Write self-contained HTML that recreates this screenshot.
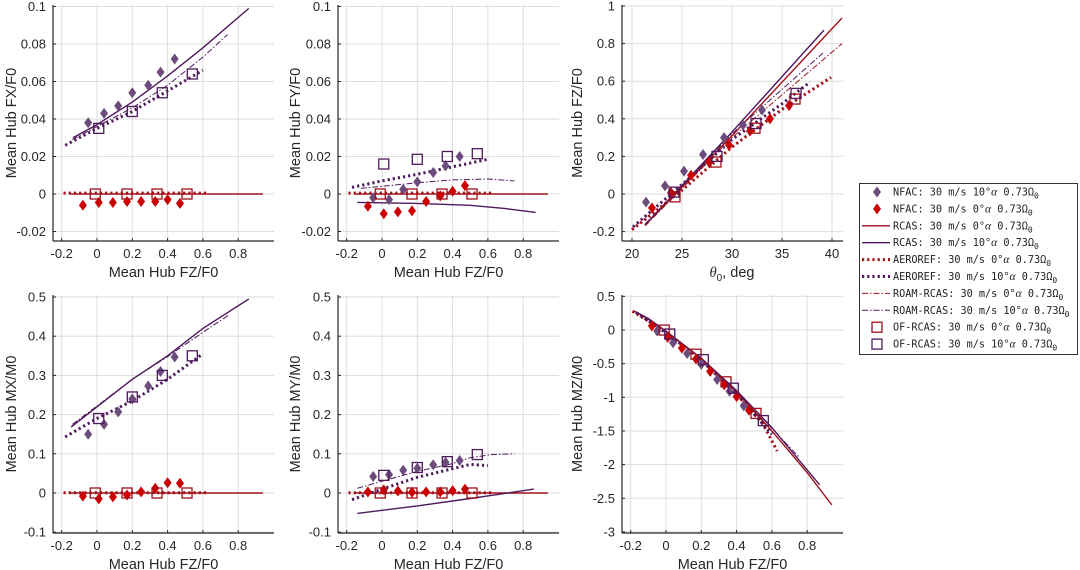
<!DOCTYPE html>
<html><head><meta charset="utf-8">
<style>
html,body{margin:0;padding:0;background:#fff;width:1080px;height:570px;overflow:hidden}
svg{display:block}
text{font-family:"Liberation Sans",Arial,sans-serif;fill:#262626}
.leg text{font-family:"DejaVu Sans Mono","Liberation Mono",monospace;font-size:10.2px;fill:#222}
</style></head>
<body>
<svg id="s" width="1080" height="570" xmlns="http://www.w3.org/2000/svg"></svg>
<script>
const S=document.getElementById('s');
let out='';
const RL='#a0101a', RM='#cc0000', PL='#4e1a5c', PM='#6b4c7c';
function pts(a,fx,fy){return a.map(p=>fx(p[0]).toFixed(1)+','+fy(p[1]).toFixed(1)).join(' ');}
function line(a,fx,fy,col,style){
  let st='';
  if(style=='solid') st='stroke-width="1.4"';
  if(style=='dot') st='stroke-width="3" stroke-dasharray="2.2 3"';
  if(style=='dd') st='stroke-width="1" stroke-dasharray="6 2 1.5 2"';
  out+=`<polyline points="${pts(a,fx,fy)}" fill="none" stroke="${col}" ${st}/>`;
}
function dia(x,y,c){out+=`<polygon points="${x},${y-5.5} ${x+4},${y} ${x},${y+5.5} ${x-4},${y}" fill="${c}"/>`;}
function sq(x,y,c){out+=`<rect x="${x-5}" y="${y-5}" width="10" height="10" fill="none" stroke="${c}" stroke-width="1.3"/>`;}
function axes(L,T,B,R,fx,fy,xt,yt,xlab,ylab,ylx,xfmt){
  xt.forEach(v=>{const x=fx(v);out+=`<line x1="${x}" y1="${T}" x2="${x}" y2="${B}" stroke="#dedede" stroke-width="1"/>`;});
  yt.forEach(v=>{const y=fy(v);out+=`<line x1="${L}" y1="${y}" x2="${R}" y2="${y}" stroke="#dedede" stroke-width="1"/>`;});
  out+=`<line x1="${L}" y1="${T}" x2="${L}" y2="${B}" stroke="#262626" stroke-width="1.2"/>`;
  out+=`<line x1="${L}" y1="${B}" x2="${R}" y2="${B}" stroke="#262626" stroke-width="1.2"/>`;
  xt.forEach(v=>{const x=fx(v);out+=`<line x1="${x}" y1="${B}" x2="${x}" y2="${B-3}" stroke="#262626"/>`;
    out+=`<text x="${x}" y="${B+17}" font-size="13" text-anchor="middle">${xfmt?xfmt(v):fmt(v)}</text>`;});
  yt.forEach(v=>{const y=fy(v);out+=`<line x1="${L}" y1="${y}" x2="${L+3}" y2="${y}" stroke="#262626"/>`;
    out+=`<text x="${L-7}" y="${y+4.5}" font-size="13" text-anchor="end">${fmt(v)}</text>`;});
  out+=`<text x="${(L+R)/2}" y="${B+36}" font-size="14.5" text-anchor="middle">${xlab}</text>`;
  out+=`<text transform="translate(${ylx},${(T+B)/2}) rotate(-90)" font-size="14.5" text-anchor="middle">${ylab}</text>`;
}
function fmt(v){let r=Math.round(v*1000)/1000; if(Math.abs(r)<1e-9) return '0'; return String(r);}
function rng(a,b,s){let r=[];for(let v=a;v<=b+1e-9;v+=s)r.push(Math.round(v*1000)/1000);return r;}
const XT=rng(-0.2,0.8,0.2);
const NX10=[-0.05,0.04,0.12,0.2,0.29,0.36,0.44];
const NX0=[-0.08,0.01,0.09,0.17,0.25,0.33,0.4,0.47];
const OX10=[0.01,0.2,0.37,0.54], OX0=[-0.01,0.17,0.34,0.51];

function fzPlot(L,T,B,y0,sc,yt,ylab,ylx,d){
  const fx=x=>L+44+x*176.5, fy=y=>y0-y*sc;
  axes(L,T,B,L+221,fx,fy,XT,yt,'Mean Hub FZ/F0',ylab,ylx);
  line(d.r0,fx,fy,RL,'solid'); line(d.a0,fx,fy,RL,'dot'); if(d.m0) line(d.m0,fx,fy,RL,'dd');
  line(d.r10,fx,fy,PL,'solid'); line(d.m10,fx,fy,PL,'dd'); line(d.a10,fx,fy,PL,'dot');
  NX10.forEach((x,i)=>dia(fx(x),fy(d.n10[i]),PM));
  NX0.forEach((x,i)=>dia(fx(x),fy(d.n0[i]),RM));
  OX0.forEach((x,i)=>sq(fx(x),fy(d.o0[i]),RL));
  OX10.forEach((x,i)=>sq(fx(x),fy(d.o10[i]),PL));
}
const Z0r=[[-0.15,0],[0.94,0]], Z0a=[[-0.19,0.0005],[0.62,0.0005]];
fzPlot(53,5,241,194,1875,rng(-0.02,0.1,0.02),'Mean Hub FX/F0',16,{
 r0:Z0r,a0:Z0a,
 r10:[[-0.136,0.030],[0,0.037],[0.2,0.049],[0.4,0.063],[0.6,0.078],[0.86,0.099]],
 m10:[[-0.14,0.029],[0,0.036],[0.2,0.046],[0.4,0.058],[0.6,0.073],[0.74,0.085]],
 a10:[[-0.18,0.026],[0,0.035],[0.2,0.044],[0.4,0.055],[0.6,0.066]],
 n10:[.038,.043,.047,.054,.058,.065,.072],
 n0:[-.006,-.0045,-.0045,-.004,-.004,-.004,-.003,-.005],
 o10:[.035,.044,.054,.064],o0:[0,0,0,0]});
fzPlot(338,5,241,194,1875,rng(-0.02,0.1,0.02),'Mean Hub FY/F0',300,{
 r0:Z0r,a0:Z0a,
 r10:[[-0.14,-0.0045],[0.2,-0.005],[0.5,-0.006],[0.7,-0.0078],[0.87,-0.0098]],
 m10:[[-0.12,0.003],[0.2,0.006],[0.4,0.0075],[0.6,0.008],[0.75,0.007]],
 a10:[[-0.17,0.0035],[0,0.007],[0.2,0.0105],[0.4,0.0145],[0.6,0.0185]],
 n10:[-.002,-.003,.0025,.0065,.0115,.015,.02],
 n0:[-.0065,-.0105,-.0095,-.009,-.004,-.001,.0015,.0045],
 o10:[.016,.0185,.02,.0215],o0:[0,0,0,0]});
fzPlot(53,295,533,493,392,rng(-0.1,0.5,0.1),'Mean Hub MX/M0',16,{
 r0:Z0r,a0:Z0a,
 r10:[[-0.147,0.168],[0,0.22],[0.2,0.29],[0.4,0.35],[0.6,0.42],[0.86,0.495]],
 m10:[[-0.14,0.175],[0,0.222],[0.2,0.29],[0.4,0.348],[0.6,0.41],[0.75,0.455]],
 a10:[[-0.18,0.143],[0,0.19],[0.2,0.235],[0.4,0.29],[0.6,0.355]],
 n10:[.15,.175,.207,.24,.273,.31,.347],
 n0:[-.008,-.015,-.01,-.005,.003,.012,.026,.025],
 o10:[.19,.245,.30,.35],o0:[0,0,0,0]});
fzPlot(338,295,533,493,392,rng(-0.1,0.5,0.1),'Mean Hub MY/M0',300,{
 r0:Z0r,a0:Z0a,
 r10:[[-0.14,-0.052],[0.2,-0.033],[0.5,-0.014],[0.86,0.01]],
 m10:[[-0.14,0.012],[0,0.03],[0.2,0.055],[0.4,0.075],[0.5,0.09],[0.62,0.098],[0.75,0.1]],
 a10:[[-0.17,-0.017],[0,0.01],[0.2,0.04],[0.4,0.062],[0.5,0.073],[0.6,0.07]],
 n10:[.042,.047,.058,.063,.072,.078,.083],
 n0:[.003,.008,.005,.002,.003,.003,.006,.01],
 o10:[.045,.065,.08,.098],o0:[0,0,0,0]});
(function(){
 const L=622,T=295,B=533; const fx=x=>L+44+x*176.5, fy=y=>330-y*67.3;
 axes(L,T,B,L+221,fx,fy,XT,rng(-3,0.5,0.5),'Mean Hub FZ/F0','Mean Hub MZ/M0',582);
 const c=[[-0.18,0.28],[-0.1,0.17],[0,-0.02],[0.2,-0.42],[0.4,-0.92],[0.6,-1.5],[0.8,-2.12],[0.94,-2.6]];
 const f=x=>{for(let i=0;i<c.length-1;i++){if(x<=c[i+1][0]){const t=(x-c[i][0])/(c[i+1][0]-c[i][0]);return c[i][1]+t*(c[i+1][1]-c[i][1]);}}return c[c.length-1][1];};
 line(c,fx,fy,RL,'solid');
 line([[-0.18,0.28],[-0.1,0.17],[0,-0.02],[0.2,-0.42],[0.4,-0.9],[0.6,-1.45],[0.87,-2.3]],fx,fy,PL,'solid');
 line([[-0.16,0.26],[0,-0.02],[0.2,-0.42],[0.4,-0.9],[0.6,-1.46],[0.75,-1.88]],fx,fy,PL,'dd');
 line([[-0.19,0.28],[0,-0.03],[0.2,-0.44],[0.4,-0.95],[0.55,-1.4],[0.63,-1.8]],fx,fy,RL,'dot');
 line([[-0.17,0.26],[0,-0.04],[0.2,-0.45],[0.4,-0.95],[0.6,-1.55]],fx,fy,PL,'dot');
 NX10.forEach(x=>dia(fx(x),fy(f(x)-0.09),PM));
 NX0.forEach(x=>dia(fx(x),fy(f(x)-0.07),RM));
 OX0.forEach(x=>sq(fx(x),fy(f(x)),RL));
 OX10.forEach(x=>sq(fx(x)+2,fy(f(x)-0.02),PL));
})();
(function(){
 const L=622,T=5,B=241; const fx=t=>632+(t-20)*10, fy=y=>194-y*188;
 axes(L,T,B,L+221,fx,fy,[20,25,30,35,40],rng(-0.2,1,0.2),'','Mean Hub FZ/F0',582,v=>String(v));
 out+=`<text x="732" y="277" font-size="14.5" text-anchor="middle"><tspan font-family="Liberation Serif" font-style="italic">θ</tspan><tspan font-size="10" dy="4">0</tspan><tspan dy="-4">, deg</tspan></text>`;
 line([[21.3,-0.165],[30,0.31],[41,0.936]],fx,fy,RL,'solid');
 line([[21.3,-0.165],[30,0.33],[39.2,0.872]],fx,fy,PL,'solid');
 line([[21.3,-0.17],[30,0.30],[41,0.80]],fx,fy,RL,'dd');
 line([[21.3,-0.16],[30,0.32],[39.1,0.75]],fx,fy,PL,'dd');
 line([[20.0,-0.19],[25,0.02],[30,0.25],[35,0.45],[39.9,0.62]],fx,fy,RL,'dot');
 line([[20.1,-0.175],[25,0.05],[30,0.29],[35,0.48],[37.8,0.595]],fx,fy,PL,'dot');
 [[21.4,-0.043],[23.3,0.043],[25.2,0.122],[27.1,0.21],[29.2,0.30],[31.1,0.367],[33.0,0.447]].forEach(p=>dia(fx(p[0]),fy(p[1]),PM));
 [[22.0,-0.074],[23.9,0.007],[25.9,0.10],[27.7,0.17],[29.7,0.26],[31.8,0.335],[33.8,0.40],[35.7,0.47]].forEach(p=>dia(fx(p[0]),fy(p[1]),RM));
 [[24.3,-0.015],[28.4,0.17],[32.3,0.35],[36.3,0.505]].forEach(p=>sq(fx(p[0]),fy(p[1]),RL));
 [[24.2,0.01],[28.5,0.20],[32.4,0.375],[36.4,0.535]].forEach(p=>sq(fx(p[0]),fy(p[1]),PL));
})();
out+=`<rect x="859.5" y="183.5" width="218" height="171" fill="#fff" stroke="#333" stroke-width="1"/>`;
const ents=[['d',PM,'NFAC: 30 m/s 10°'],['d',RM,'NFAC: 30 m/s 0°'],
 ['solid',RL,'RCAS: 30 m/s 0°'],['solid',PL,'RCAS: 30 m/s 10°'],
 ['dot',RL,'AEROREF: 30 m/s 0°'],['dot',PL,'AEROREF: 30 m/s 10°'],
 ['dd',RL,'ROAM-RCAS: 30 m/s 0°'],['dd',PL,'ROAM-RCAS: 30 m/s 10°'],
 ['s',RL,'OF-RCAS: 30 m/s 0°'],['s',PL,'OF-RCAS: 30 m/s 10°']];
out+='<g class="leg">';
ents.forEach((e,i)=>{const y=192+i*16.9;
 if(e[0]=='d') dia(877,y,e[1]); else if(e[0]=='s') sq(877,y,e[1]);
 else line([[862,y],[890,y]],x=>x,v=>v,e[1],e[0]);
 out+=`<text x="893" y="${y+3.5}">${e[2]}<tspan font-family="Liberation Serif" font-style="italic" font-size="11.5">α</tspan> 0.73Ω<tspan font-size="8" dy="3">0</tspan></text>`;
});
out+='</g>';
S.innerHTML=out;
</script>
</body></html>
